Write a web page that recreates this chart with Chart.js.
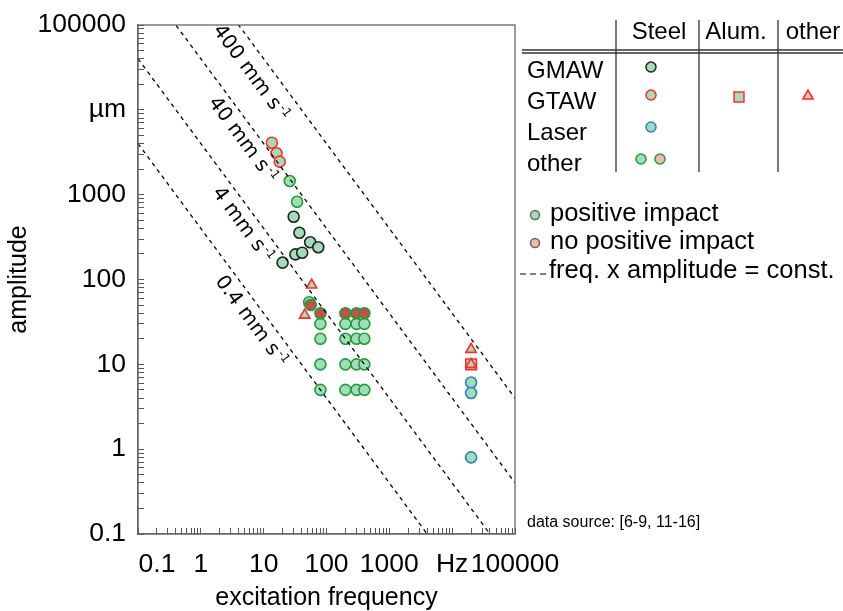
<!DOCTYPE html>
<html>
<head>
<meta charset="utf-8">
<script src="https://cdn.jsdelivr.net/npm/chart.js@4.4.0/dist/chart.umd.min.js"></script>
<style>
  html, body { margin: 0; padding: 0; background: #fff; }
  #wrap { width: 843px; height: 611px; }
</style>
</head>
<body>
<div id="wrap"><canvas id="chart" width="843" height="611"></canvas></div>
<script>
// Ejes: décadas y etiquetas
const decades = [0.1, 1, 10, 100, 1000, 10000, 100000];
const xTickLabels = ['0.1', '1', '10', '100', '1000', 'Hz', '100000'];
const yTickLabels = ['0.1', '1', '10', '100', '1000', 'µm', '100000'];

// Datos: frecuencia (Hz) / amplitud (µm)
const gmawSteelFreq = [20, 30, 37, 32, 41, 55, 74];
const gmawSteelAmp = [158, 550, 356, 198, 207, 275, 240];

const gtawSteelFreq = [13.5, 16, 18];
const gtawSteelAmp = [4100, 3075, 2450];

const laserSteelFreq = [20000, 20000, 20000];
const laserSteelAmp = [6.1, 4.6, 0.8];

const otherPosFreq = [26, 34, 53, 80, 80, 80, 80, 200, 200, 200, 200, 300, 300, 300, 300, 400, 400, 400, 400];
const otherPosAmp = [1450, 826, 54, 30, 20, 10, 5, 30, 20, 10, 5, 30, 20, 10, 5, 30, 20, 10, 5];

const otherNegFreq = [56, 80, 200, 300, 400];
const otherNegAmp = [50, 40, 40, 40, 40];

const gtawOtherFreq = [58, 45, 20000, 20000];
const gtawOtherAmp = [86, 38, 15, 10];

const gtawAlumFreq = [20000];
const gtawAlumAmp = [10];

// Líneas frecuencia x amplitud = constante (µm·Hz)
const speedProducts = [400000, 40000, 4000, 400];
const speedLabels = ['400 mm s', '40 mm s', '4 mm s', '0.4 mm s'];
const speedLabelFreq = [9.3, 6.15, 6.15, 8.4];

// Leyenda en forma de tabla
const tableCols = ['Steel', 'Alum.', 'other'];
const tableRows = ['GMAW', 'GTAW', 'Laser', 'other'];

const FONT = "'Liberation Sans', Arial, sans-serif";
const TICK_SIZE = 26.5;
const greenFill = '#a3dcb9';
const redFill = '#c4504a';
const pinkFill = '#f5b8b0';
const cGmaw = '#222222';
const cGtaw = '#ff2a2a';
const cLaser = '#2f7fc1';
const cOther = '#1f9e36';

function pts(fs, as) {
    return fs.map((f, i) => ({ x: f, y: as[i] }));
}

// marcas 1..9 x 10^n
function logTicks() {
    const t = [];
    decades.forEach((d, i) => {
        t.push({ value: d, major: true });
        if (i < decades.length - 1) {
            for (let m = 2; m <= 9; m++) t.push({ value: +(d * m).toPrecision(3), major: false });
        }
    });
    return t;
}

function tickLabel(labels) {
    return function (value) {
        const i = decades.findIndex(d => Math.abs(value / d - 1) < 1e-6);
        return i < 0 ? '' : labels[i];
    };
}

const lineDatasets = speedProducts.map(p => ({
    type: 'line',
    data: [{ x: 0.1, y: p / 0.1 }, { x: 100000, y: p / 100000 }],
    showLine: true,
    borderColor: '#000',
    borderWidth: 1.3,
    borderDash: [4, 4],
    pointRadius: 0,
    fill: false
}));

function markerSet(data, style, radius, fill, border) {
    return {
        data: data,
        pointStyle: style,
        pointRadius: radius,
        pointBackgroundColor: fill,
        pointBorderColor: border,
        pointBorderWidth: 1.6,
        showLine: false
    };
}

const pointDatasets = [
    markerSet(pts(gtawOtherFreq, gtawOtherAmp), 'triangle', 6, greenFill, cGtaw),
    markerSet(pts(gtawAlumFreq, gtawAlumAmp), 'rect', 7.5, greenFill, cGtaw),
    markerSet(pts(otherNegFreq, otherNegAmp), 'circle', 5.5, redFill, cOther),
    markerSet(pts(otherPosFreq, otherPosAmp), 'circle', 5.5, greenFill, cOther),
    markerSet(pts(gtawSteelFreq, gtawSteelAmp), 'circle', 5.5, greenFill, cGtaw),
    markerSet(pts(gmawSteelFreq, gmawSteelAmp), 'circle', 5.5, greenFill, cGmaw),
    markerSet(pts(laserSteelFreq, laserSteelAmp), 'circle', 5.5, greenFill, cLaser)
];

function drawMarker(ctx, style, x, y, r, fill, stroke) {
    ctx.fillStyle = fill;
    ctx.strokeStyle = stroke;
    ctx.lineWidth = 1.5;
    Chart.helpers.drawPoint(ctx, { pointStyle: style, radius: r, borderWidth: 1.5, rotation: 0 }, x, y);
}

// marco, etiqueta 0.1 desplazada y textos girados de las líneas
const annotations = {
    id: 'annotations',
    afterDraw(chart) {
        const ctx = chart.ctx;
        const xs = chart.scales.x;
        const ys = chart.scales.y;
        const area = chart.chartArea;
        ctx.save();

        ctx.strokeStyle = '#666';
        ctx.lineWidth = 1.3;
        ctx.strokeRect(area.left, area.top, area.right - area.left, area.bottom - area.top);

        // "0.1" del eje x, movido a la derecha como en el original
        const items = xs.getLabelItems();
        const ref = items.find(it => it.label === '1');
        if (ref) {
            ctx.font = TICK_SIZE + "px " + FONT;
            ctx.fillStyle = '#000';
            ctx.textAlign = 'center';
            ctx.textBaseline = ref.options.textBaseline;
            ctx.fillText('0.1', xs.getPixelForValue(0.1) + 19, ref.options.translation[1] + ref.textOffset);
        }

        // textos sobre las líneas
        const ang = Math.atan2(ys.getPixelForValue(1) - ys.getPixelForValue(10),
            xs.getPixelForValue(10) - xs.getPixelForValue(1));
        speedProducts.forEach((p, i) => {
            const f = speedLabelFreq[i];
            const px = xs.getPixelForValue(f);
            const py = ys.getPixelForValue(p / f);
            const off = i === 0 ? 19 : 15;
            const cx = px - Math.sin(ang) * off;
            const cy = py + Math.cos(ang) * off;
            ctx.save();
            ctx.translate(cx, cy);
            ctx.rotate(ang);
            ctx.fillStyle = '#000';
            ctx.font = "20px 'DejaVu Sans', sans-serif";
            ctx.textAlign = 'center';
            ctx.textBaseline = 'middle';
            ctx.fillText(speedLabels[i], 0, 0);
            const w = ctx.measureText(speedLabels[i]).width;
            ctx.font = "12px 'DejaVu Sans', sans-serif";
            ctx.textAlign = 'left';
            ctx.fillText('-1', w / 2 + 2, -5);
            ctx.restore();
        });

        // leyenda en tabla
        ctx.fillStyle = '#000';
        ctx.font = "24px " + FONT;
        ctx.textBaseline = 'alphabetic';
        ctx.textAlign = 'center';
        const colX = [659, 736, 813];
        tableCols.forEach((c, i) => ctx.fillText(c, colX[i], 39));
        ctx.textAlign = 'left';
        const rowY = [78, 109, 140, 171];
        tableRows.forEach((r, i) => ctx.fillText(r, 527, rowY[i]));

        ctx.strokeStyle = '#333';
        ctx.lineWidth = 1.3;
        [616, 699, 778].forEach(x => {
            ctx.beginPath();
            ctx.moveTo(x, 20);
            ctx.lineTo(x, 172);
            ctx.stroke();
        });
        [50, 53].forEach(y => {
            ctx.beginPath();
            ctx.moveTo(522, y);
            ctx.lineTo(843, y);
            ctx.stroke();
        });

        drawMarker(ctx, 'circle', 651, 67, 5, greenFill, cGmaw);
        drawMarker(ctx, 'circle', 651, 95, 5, greenFill, cGtaw);
        drawMarker(ctx, 'rect', 739, 97, 7, greenFill, cGtaw);
        drawMarker(ctx, 'triangle', 808, 96, 6, pinkFill, cGtaw);
        drawMarker(ctx, 'circle', 651, 127, 5, greenFill, cLaser);
        drawMarker(ctx, 'circle', 641, 159, 5, greenFill, cOther);
        drawMarker(ctx, 'circle', 660, 159, 5, pinkFill, cOther);

        // leyenda inferior
        drawMarker(ctx, 'circle', 535, 215, 4.5, greenFill, '#666');
        drawMarker(ctx, 'circle', 535, 243, 4.5, pinkFill, '#666');
        ctx.fillStyle = '#000';
        ctx.font = "25.5px " + FONT;
        ctx.textAlign = 'left';
        ctx.fillText('positive impact', 550, 221);
        ctx.fillText('no positive impact', 550, 249);
        ctx.fillText('freq. x amplitude = const.', 549, 278);
        ctx.strokeStyle = '#000';
        ctx.lineWidth = 1.2;
        ctx.setLineDash([6, 4]);
        ctx.beginPath();
        ctx.moveTo(520, 274);
        ctx.lineTo(547, 274);
        ctx.stroke();
        ctx.setLineDash([]);

        ctx.font = "16px " + FONT;
        ctx.fillText('data source: [6-9, 11-16]', 527, 527);

        ctx.restore();
    }
};

new Chart(document.getElementById('chart'), {
    type: 'scatter',
    data: { datasets: lineDatasets.concat(pointDatasets) },
    options: {
        responsive: false,
        animation: false,
        events: [],
        layout: { padding: { top: 25, right: 328, left: 0, bottom: 0 } },
        plugins: { legend: { display: false }, tooltip: { enabled: false } },
        scales: {
            x: {
                type: 'logarithmic',
                position: 'bottom',
                min: 0.1,
                max: 100000,
                afterBuildTicks: s => { s.ticks = logTicks(); },
                afterFit: s => { s.height = 77; },
                ticks: {
                    autoSkip: false,
                    maxRotation: 0,
                    padding: 20.5,
                    color: '#000',
                    font: { family: FONT, size: TICK_SIZE, lineHeight: 1.2 },
                    callback: function (v) {
                        const lab = tickLabel(xTickLabels)(v);
                        return lab === '0.1' ? '' : lab;
                    }
                },
                grid: { drawOnChartArea: false, drawTicks: true, tickLength: -6, tickColor: '#555' },
                border: { display: true, color: '#666', width: 1.3 },
                title: {
                    display: true,
                    text: 'excitation frequency',
                    color: '#000',
                    font: { family: FONT, size: 25, lineHeight: 1 },
                    padding: { top: 0, bottom: 0 }
                }
            },
            y: {
                type: 'logarithmic',
                position: 'left',
                min: 0.1,
                max: 100000,
                afterBuildTicks: s => { s.ticks = logTicks(); },
                afterFit: s => {
                    s.width = 138;
                    s.paddingTop = 0;
                    s.paddingBottom = 0;
                },
                ticks: {
                    autoSkip: false,
                    padding: 18,
                    color: '#000',
                    font: { family: FONT, size: TICK_SIZE },
                    callback: tickLabel(yTickLabels)
                },
                grid: { drawOnChartArea: false, drawTicks: true, tickLength: -6, tickColor: '#555' },
                border: { display: true, color: '#666', width: 1.3 },
                title: {
                    display: true,
                    text: 'amplitude',
                    color: '#000',
                    font: { family: FONT, size: 25, lineHeight: 1 },
                    padding: { top: 7, bottom: 0 }
                }
            }
        }
    },
    plugins: [annotations]
});
</script>
</body>
</html>
